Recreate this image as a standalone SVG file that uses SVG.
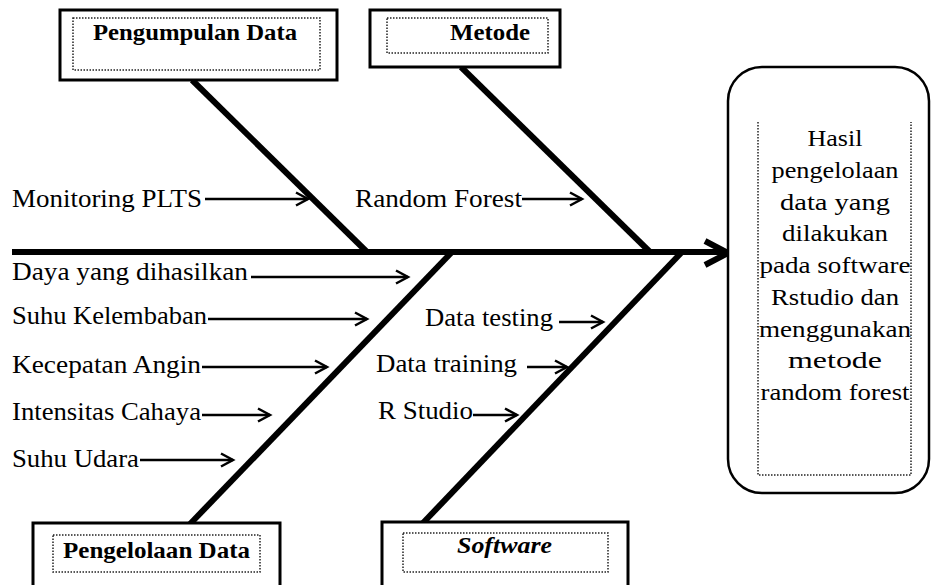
<svg xmlns="http://www.w3.org/2000/svg" width="931" height="585" viewBox="0 0 931 585">
<style>
.t{font-family:"Liberation Serif","Times New Roman",serif;font-size:25px;fill:#000}
.ttl{font-weight:bold;font-size:23px;text-anchor:middle}
.res{font-size:23px;text-anchor:middle}
.bone{stroke:#000;stroke-width:6;fill:none}
.arr{stroke:#000;stroke-width:2.5;fill:none;marker-end:url(#ah)}
.box{fill:#fff;stroke:#000;stroke-width:3}
.dot{fill:none;stroke:#222;stroke-width:1.5;stroke-dasharray:1.5 1.5}
</style>
<defs>
<marker id="ah" markerUnits="userSpaceOnUse" markerWidth="16" markerHeight="16" refX="13" refY="8" orient="auto">
<path d="M1,1.5 L13,8 L1,14.5" fill="none" stroke="#000" stroke-width="2.5"/>
</marker>
</defs>
<rect width="931" height="585" fill="#fff"/>
<g id="connectors">
<line class="bone" x1="12" y1="252" x2="727" y2="252"/>
<polyline class="bone" points="705,241 728,253 705,265"/>
<line class="bone" x1="192" y1="80" x2="367" y2="252"/>
<line class="bone" x1="461" y1="67" x2="650" y2="252"/>
<line class="bone" x1="452" y1="252" x2="190" y2="524"/>
<line class="bone" x1="682" y1="252" x2="422" y2="524"/>
<line class="arr" x1="205" y1="199" x2="308" y2="199"/>
<line class="arr" x1="522" y1="199" x2="582" y2="199"/>
<line class="arr" x1="251" y1="277" x2="408" y2="277"/>
<line class="arr" x1="208" y1="319" x2="367" y2="319"/>
<line class="arr" x1="202" y1="367" x2="327" y2="367"/>
<line class="arr" x1="202" y1="415" x2="270" y2="415"/>
<line class="arr" x1="140" y1="460" x2="233" y2="460"/>
<line class="arr" x1="559" y1="322" x2="603" y2="322"/>
<line class="arr" x1="527" y1="367" x2="567" y2="367"/>
<line class="arr" x1="473" y1="415" x2="517" y2="415"/>
</g>
<g id="pengumpulan-data">
<rect class="box" x="60" y="10" width="277" height="70"/>
<rect class="dot" x="73" y="18" width="247" height="52"/>
<text class="t ttl" x="195" y="40" textLength="204" lengthAdjust="spacingAndGlyphs">Pengumpulan Data</text>
</g>
<g id="metode">
<rect class="box" x="370" y="10" width="190" height="57"/>
<rect class="dot" x="387" y="18" width="161" height="35"/>
<text class="t ttl" x="490" y="40" textLength="80" lengthAdjust="spacingAndGlyphs">Metode</text>
</g>
<g id="pengelolaan-data">
<rect class="box" x="33" y="523" width="247" height="70"/>
<rect class="dot" x="53" y="535" width="207" height="37"/>
<text class="t ttl" x="156.5" y="558" textLength="187" lengthAdjust="spacingAndGlyphs">Pengelolaan Data</text>
</g>
<g id="software">
<rect class="box" x="382" y="522" width="246" height="70"/>
<rect class="dot" x="403" y="533" width="205" height="39"/>
<text class="t ttl" x="504.5" y="553" font-style="italic" textLength="95" lengthAdjust="spacingAndGlyphs">Software</text>
</g>
<g id="hasil">
<rect x="728" y="67" width="201" height="426" rx="34" ry="34" fill="#fff" stroke="#000" stroke-width="2.5"/>
<path class="dot" d="M758,122 V475 H911 V122" stroke-width="1"/>
<text class="t res" x="835" y="146" textLength="55" lengthAdjust="spacingAndGlyphs">Hasil</text>
<text class="t res" x="835" y="178" textLength="127" lengthAdjust="spacingAndGlyphs">pengelolaan</text>
<text class="t res" x="835" y="210" textLength="110" lengthAdjust="spacingAndGlyphs">data yang</text>
<text class="t res" x="835" y="241" textLength="106" lengthAdjust="spacingAndGlyphs">dilakukan</text>
<text class="t res" x="835" y="273" textLength="151" lengthAdjust="spacingAndGlyphs">pada software</text>
<text class="t res" x="835" y="305" textLength="128" lengthAdjust="spacingAndGlyphs">Rstudio dan</text>
<text class="t res" x="835" y="337" textLength="152" lengthAdjust="spacingAndGlyphs">menggunakan</text>
<text class="t res" x="835" y="368" textLength="94" lengthAdjust="spacingAndGlyphs">metode</text>
<text class="t res" x="835" y="400" textLength="149" lengthAdjust="spacingAndGlyphs">random forest</text>
</g>
<g id="cause-monitoring-plts"><text class="t" x="12" y="207" textLength="190" lengthAdjust="spacingAndGlyphs">Monitoring PLTS</text></g>
<g id="cause-random-forest"><text class="t" x="355" y="207" textLength="167" lengthAdjust="spacingAndGlyphs">Random Forest</text></g>
<g id="cause-daya"><text class="t" x="12" y="280" textLength="236" lengthAdjust="spacingAndGlyphs">Daya yang dihasilkan</text></g>
<g id="cause-suhu-kelembaban"><text class="t" x="12" y="324" textLength="195" lengthAdjust="spacingAndGlyphs">Suhu Kelembaban</text></g>
<g id="cause-kecepatan-angin"><text class="t" x="12" y="373" textLength="189" lengthAdjust="spacingAndGlyphs">Kecepatan Angin</text></g>
<g id="cause-intensitas-cahaya"><text class="t" x="12" y="420" textLength="189" lengthAdjust="spacingAndGlyphs">Intensitas Cahaya</text></g>
<g id="cause-suhu-udara"><text class="t" x="12" y="467" textLength="127" lengthAdjust="spacingAndGlyphs">Suhu Udara</text></g>
<g id="cause-data-testing"><text class="t" x="425" y="326" textLength="128" lengthAdjust="spacingAndGlyphs">Data testing</text></g>
<g id="cause-data-training"><text class="t" x="376" y="372" textLength="141" lengthAdjust="spacingAndGlyphs">Data training</text></g>
<g id="cause-r-studio"><text class="t" x="378" y="419" textLength="95" lengthAdjust="spacingAndGlyphs">R Studio</text></g>
</svg>
